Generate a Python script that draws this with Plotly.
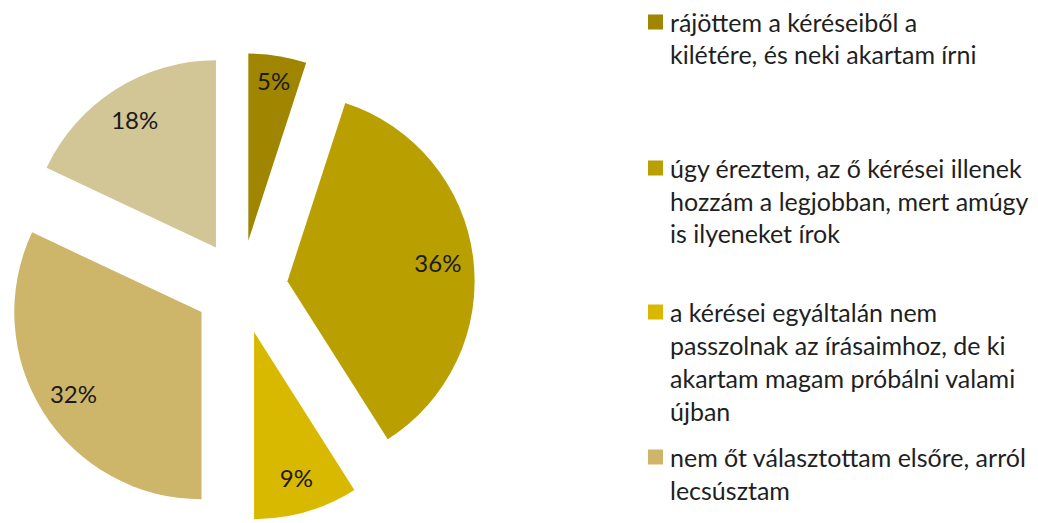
import plotly.graph_objects as go

# ---- data ----
categories = [
    "rájöttem a kéréseiből a kilétére, és neki akartam írni",
    "úgy éreztem, az ő kérései illenek hozzám a legjobban, mert amúgy is ilyeneket írok",
    "a kérései egyáltalán nem passzolnak az írásaimhoz, de ki akartam magam próbálni valami újban",
    "nem őt választottam elsőre, arról lecsúsztam",
    "egyéb",
]
percent_values = [5, 36, 9, 32, 18]
slice_colors = ["#A08600", "#B9A000", "#D9B900", "#CDB66A", "#D2C596"]

legend_lines = [
    ["rájöttem a kéréseiből a", "kilétére, és neki akartam írni"],
    ["úgy éreztem, az ő kérései illenek", "hozzám a legjobban, mert amúgy", "is ilyeneket írok"],
    ["a kérései egyáltalán nem", "passzolnak az írásaimhoz, de ki", "akartam magam próbálni valami", "újban"],
    ["nem őt választottam elsőre, arról", "lecsúsztam"],
]
legend_line_y_px = [[22, 54], [168, 201, 233], [312, 345, 378, 411], [457, 490]]

W, H = 1038, 523
FONT = "Lato"
PULL = 0.25
pie_domain = dict(x=[7 / W, 475 / W], y=[1 - 521 / H, 1 - 53 / H])

fig = go.Figure()
# coloured slices
fig.add_trace(go.Pie(
    labels=categories,
    values=percent_values,
    sort=False,
    direction="clockwise",
    rotation=0,
    pull=[PULL] * len(percent_values),
    marker=dict(colors=slice_colors, line=dict(width=0)),
    textinfo="none",
    hoverinfo="label+percent",
    showlegend=False,
    domain=pie_domain,
))
# percentage labels placed in the outer ring of each slice
fig.add_trace(go.Pie(
    labels=categories,
    values=percent_values,
    sort=False,
    direction="clockwise",
    rotation=0,
    hole=0.62,
    pull=[PULL] * len(percent_values),
    marker=dict(colors=["rgba(0,0,0,0)"] * len(percent_values), line=dict(width=0)),
    texttemplate="%{value}%",
    textposition="inside",
    insidetextorientation="horizontal",
    textfont=dict(family=FONT, size=24, color="#1a1a1a"),
    hoverinfo="skip",
    showlegend=False,
    domain=pie_domain,
))

annotations = []
shapes = []
text_x = 668 / W
for i, lines in enumerate(legend_lines):
    for j, line in enumerate(lines):
        annotations.append(dict(
            x=text_x, y=1 - legend_line_y_px[i][j] / H,
            xref="paper", yref="paper", xanchor="left", yanchor="middle",
            text=line, showarrow=False,
            font=dict(family=FONT, size=25, color="#1f1f1f"),
        ))
    yc = legend_line_y_px[i][0]
    shapes.append(dict(
        type="rect", xref="paper", yref="paper",
        x0=648 / W, x1=663 / W, y0=1 - (yc + 7.5) / H, y1=1 - (yc - 7.5) / H,
        fillcolor=slice_colors[i], line=dict(width=0),
    ))

fig.update_layout(
    width=W, height=H,
    margin=dict(l=0, r=0, t=0, b=0),
    paper_bgcolor="white", plot_bgcolor="white",
    font=dict(family=FONT),
    annotations=annotations, shapes=shapes,
)

fig.write_html(
    "out.html",
    config={"displayModeBar": False},
    post_script="document.body.style.margin='0';document.body.style.overflow='hidden';",
)
